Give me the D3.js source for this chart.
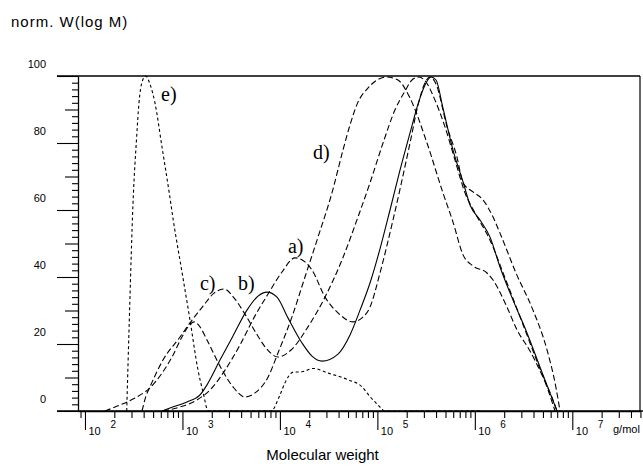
<!DOCTYPE html>
<html>
<head>
<meta charset="utf-8">
<script src="https://cdn.jsdelivr.net/npm/d3@7"></script>
<style>
  html, body { margin: 0; padding: 0; background: #fff; }
  svg { display: block; }
  text { fill: #000; }
</style>
</head>
<body>
<svg id="chart" width="643" height="470"></svg>
<script>
// Molecular weight distributions, [M in g/mol, normalised W(log M)]
const curveA = [[631,0],[944,1.2],[1410,3.3],[2010,6.9],[2735,12.2],[3893,19.7],[5550,28.4],[7550,34.9],
  [10500,41.5],[14290,45.7],[18080,44.5],[21340,42.1],[29040,34],[39450,29.3],[56230,26.6],[69500,27.8],
  [84000,31],[106400,41.2],[144600,57],[216300,80],[261200,91.3],[301300,97.3],[346800,99.7],[399700,97.6],
  [518800,84.8],[656000,75.8],[757000,68.1],[958000,65.4],[1213000,63],[1537000,57.9],[1812000,53.1],
  [2644000,41.2],[3953000,30.1],[5508000,18.2],[6808000,6.9],[7480000,0]];

const curveB = [[617,0],[745,0.9],[1114,2.7],[1514,4.8],[1786,7.8],[2428,15.2],[3302,22.4],[4592,30.1],
  [5960,34.3],[7374,35.5],[9333,34],[12100,27.8],[16860,20.3],[21340,16.4],[27040,14.9],[39450,17],
  [52400,22.7],[66370,30.1],[84000,38.2],[106400,48.4],[134800,60],[170700,71.9],[216300,83],[261200,91.6],
  [308300,97.3],[355000,99.7],[399700,98.8],[471000,90.4],[597000,77.9],[757000,68.4],[893000,61.5],
  [1130000,57],[1432000,51.9],[1812000,43],[2466000,33.1],[3428000,23.3],[4666000,13.1],[5902000,5.4],[6970000,0]];

const curveC = [[385,0],[423,4.5],[464,7.2],[631,15.2],[944,22.1],[1195,26.3],[1625,31.3],[2107,35.2],
  [2667,36.4],[3459,33.4],[4487,28.4],[5686,23.3],[7200,18.8],[9550,16.1],[13000,18.2],[19410,25.1],
  [29040,34],[43360,45.1],[63250,57.9],[84000,68.1],[114300,80],[151700,89.9],[192100,95.5],[226600,98.8],
  [267300,99.7],[315500,98.2],[390000,92.8],[494000,84.8],[626000,74.9],[793000,65.1],[1005000,59.1],
  [1432000,51],[2042000,39.7],[2911000,28.1],[4140000,16.4],[5636000,6.3],[6650000,0]];

const curveD = [[160,0],[229,1.8],[326,3.9],[464,6.9],[617,11.3],[781,16.1],[989,22.1],[1140,25.1],
  [1313,26.6],[1514,25.1],[1786,21.2],[2428,13.4],[3302,7.2],[4385,4.2],[5550,5.4],[7550,10.1],[9550,17.3],
  [13300,28.1],[18080,40],[24600,51.9],[34200,65.1],[44400,77.9],[52400,85.4],[63250,92.2],[78300,96.1],
  [99100,98.8],[125600,99.7],[162800,98.8],[216300,93.4],[323000,80],[471000,65.1],[597000,56.4],
  [757000,46.6],[958000,43.3],[1333000,41.2],[1537000,39.1],[2138000,31],[2710000,24.2],[3683000,17.9],
  [5010000,10.1],[6340000,3.3],[6970000,0]];

const curveE = [[268,0],[285,27.2],[311,62],[339,81.8],[358,91.9],[385,98.2],[420,100],[464,97.6],
  [523,91.9],[617,78.8],[733,65],[805,57],[989,41.5],[1195,27.2],[1445,12.2],[1625,5.7],[1841,0],
  [8110,0],[10020,4.8],[11270,8.4],[13710,11.6],[16740,11.7],[22020,12.7],[31400,11.3],[50330,9.3],
  [69050,7.3],[84000,4.3],[101500,1.8],[119700,0],[1200000,0]];

const seriesNames = ["a)", "b)", "c)", "d)", "e)"];
const seriesData = [curveA, curveB, curveC, curveD, curveE];
const seriesDash = ["6,3", null, "6,3", "6,3", "3,2.6"];
// label anchors in data units [M, W]
const labelAnchors = [[12100,47.2],[3715,36.1],[1514,36.1],[21850,75.2],[603,92.5]];

const yMajorTicks = [0, 20, 40, 60, 80, 100];
const decadeTicks = [1e2, 1e3, 1e4, 1e5, 1e6, 1e7];
const decadeExponents = ["2", "3", "4", "5", "6", "7"];

const svg = d3.select("#chart");
const plotLeft = 78, plotRight = 640, plotTop = 76, plotBottom = 411;

const x = d3.scaleLog().domain([84.8, 4.95e7]).range([plotLeft, plotRight]);
const y = d3.scaleLinear().domain([0, 100]).range([plotBottom, plotTop]);

const sansFont = "'Liberation Sans', Arial, Helvetica, sans-serif";
const serifFont = "'Liberation Serif', 'Times New Roman', serif";

// --- y axis: majors every 20, mediums every 10, minors every 2
const yMinor = d3.range(0, 101, 2).filter(v => v % 10 !== 0);
const yMedium = d3.range(10, 100, 20);

function styleAxis(g) {
  g.selectAll("path.domain").attr("stroke", "#000").attr("stroke-width", 1.3);
  g.selectAll(".tick line").attr("stroke", "#000").attr("stroke-width", 1.1);
}

svg.append("g").attr("transform", `translate(${plotLeft},0)`)
  .call(d3.axisLeft(y).tickValues(yMinor).tickSize(6).tickSizeOuter(0).tickFormat(""))
  .call(styleAxis);
svg.append("g").attr("transform", `translate(${plotLeft},0)`)
  .call(d3.axisLeft(y).tickValues(yMedium).tickSize(13).tickSizeOuter(0).tickFormat(""))
  .call(g => g.select("path.domain").remove())
  .call(styleAxis);
const yMajorAxis = svg.append("g").attr("transform", `translate(${plotLeft},0)`)
  .call(d3.axisLeft(y).tickValues(yMajorTicks).tickSize(21).tickSizeOuter(0).tickFormat(d3.format("d")))
  .call(g => g.select("path.domain").remove())
  .call(styleAxis);
yMajorAxis.selectAll(".tick text")
  .attr("x", -32).attr("y", -8.5).attr("dy", null)
  .attr("text-anchor", "end")
  .style("font-family", sansFont).style("font-size", "11px").attr("fill", "#000");

// --- x axis: decades with long ticks, 2..9 minors
const xMinor = [];
for (let e = 1; e <= 7; e++) {
  for (let k = 2; k <= 9; k++) {
    const v = k * Math.pow(10, e);
    if (x(v) > plotLeft + 1 && x(v) <= plotRight + 1) xMinor.push(v);
  }
}
svg.append("g").attr("transform", `translate(0,${plotBottom})`)
  .call(d3.axisBottom(x).tickValues(xMinor).tickSize(7).tickSizeOuter(0).tickFormat(""))
  .call(styleAxis);
const xMajorAxis = svg.append("g").attr("transform", `translate(0,${plotBottom})`)
  .call(d3.axisBottom(x).tickValues(decadeTicks).tickSize(19).tickSizeOuter(0).tickFormat(""))
  .call(g => g.select("path.domain").remove())
  .call(styleAxis);
xMajorAxis.selectAll(".tick").each(function(d, i) {
  const t = d3.select(this);
  t.append("text").attr("x", 3).attr("y", 24).attr("text-anchor", "start")
    .style("font-family", sansFont).style("font-size", "11px").text("10");
  t.append("text").attr("x", 25).attr("y", 17).attr("text-anchor", "start")
    .style("font-family", sansFont).style("font-size", "10px").text(decadeExponents[i]);
});

// frame
svg.append("line").attr("x1", plotLeft - 21).attr("x2", plotRight).attr("y1", plotTop).attr("y2", plotTop)
  .attr("stroke", "#000").attr("stroke-width", 1.3);
svg.append("line").attr("x1", plotRight).attr("x2", plotRight).attr("y1", plotTop).attr("y2", plotBottom)
  .attr("stroke", "#000").attr("stroke-width", 1.2);
svg.append("line").attr("x1", plotLeft - 21).attr("x2", plotRight + 3).attr("y1", plotBottom).attr("y2", plotBottom)
  .attr("stroke", "#000").attr("stroke-width", 1.3);

// unit label
svg.append("text").attr("x", 613).attr("y", 433)
  .style("font-family", sansFont).style("font-size", "11px").text("g/mol");

// titles
svg.append("text").attr("x", 11).attr("y", 27)
  .style("font-family", sansFont).style("font-size", "15px").style("letter-spacing", "1px")
  .text("norm. W(log M)");
svg.append("text").attr("x", 322.5).attr("y", 460).attr("text-anchor", "middle")
  .style("font-family", sansFont).style("font-size", "15px")
  .text("Molecular weight");

// curves
const line = d3.line()
  .x(d => x(d[0]))
  .y(d => y(d[1]))
  .curve(d3.curveMonotoneX);

seriesData.forEach((data, i) => {
  const p = svg.append("path")
    .datum(data)
    .attr("d", line)
    .attr("fill", "none")
    .attr("stroke", "#000")
    .attr("stroke-width", 1.1);
  if (seriesDash[i]) p.attr("stroke-dasharray", seriesDash[i]);
});

// curve labels
seriesNames.forEach((name, i) => {
  svg.append("text")
    .attr("x", x(labelAnchors[i][0]))
    .attr("y", y(labelAnchors[i][1]))
    .style("font-family", serifFont).style("font-size", "20px")
    .text(name);
});
</script>
</body>
</html>
